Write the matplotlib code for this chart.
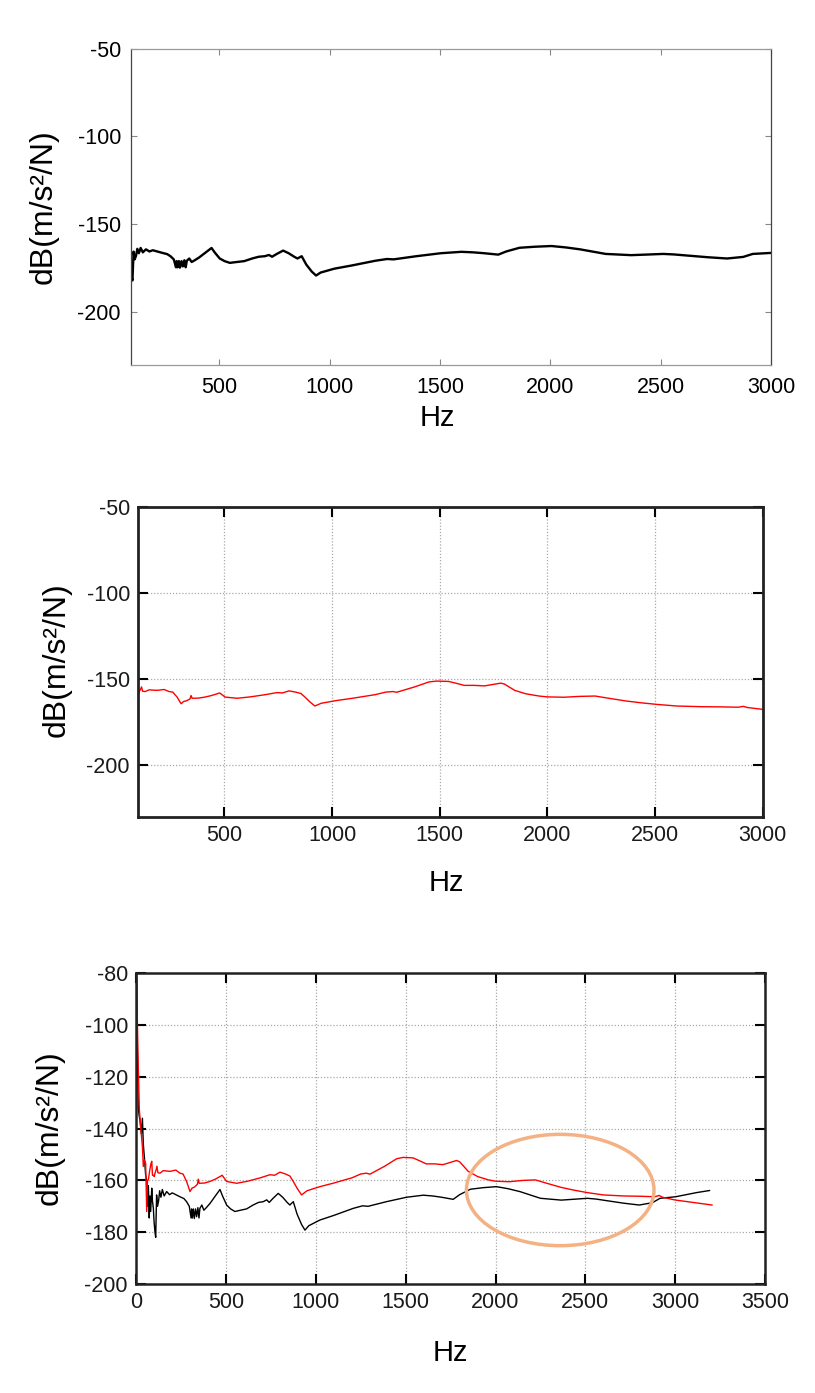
import matplotlib.pyplot as plt
from matplotlib.patches import Ellipse

plt.rcParams['font.family'] = ['Liberation Sans', 'DejaVu Sans']
plt.rcParams['axes.unicode_minus'] = False

# measured response, black (first setup) and red (second setup)
black_hz = [2, 6, 11, 16, 21, 28, 34, 39, 46, 52, 58, 63, 67, 72, 76, 80, 86, 90, 95, 99,
            104, 108, 111, 113, 118, 124, 130, 137, 145, 155, 169, 185, 200, 220, 243, 265,
            280, 295, 305, 308, 312, 318, 323, 330, 336, 343, 349, 354, 365, 376, 390, 410,
            440, 466, 480, 503, 525, 549, 580, 614, 650, 680, 707, 726, 740, 760, 790, 815,
            840, 855, 874, 895, 920, 939, 960, 1022, 1100, 1207, 1260, 1290, 1393, 1504,
            1597, 1650, 1700, 1764, 1800, 1860, 1930, 2005, 2070, 2135, 2250, 2366, 2450,
            2511, 2560, 2598, 2714, 2800, 2873, 2916, 3003, 3119, 3191]
black_db = [-82, -110, -132, -135, -137, -142, -136, -146, -152, -158, -160, -170, -162,
            -174.5, -166, -172, -163, -168, -170.8, -176, -180, -182, -172, -165.6, -170,
            -168, -164, -166.5, -163.5, -166, -164.3, -165.5, -164.8, -165.5, -166.3, -167,
            -168.2, -170, -174.5, -171, -174.5, -171, -174.7, -171, -174, -170.5, -174.5,
            -170.8, -169.5, -171.5, -170.5, -168.9, -166, -163.5, -166, -169.5, -171, -172,
            -171.5, -171, -169.5, -168.5, -168.2, -167.5, -168.5, -167, -165, -166.5,
            -168.5, -169.5, -168.2, -173, -177, -179.2, -177.5, -175.3, -173.5, -170.8,
            -169.8, -170, -168.2, -166.5, -165.7, -166, -166.5, -167.3, -165.5, -163.4,
            -162.8, -162.4, -163.2, -164.3, -166.9, -167.6, -167.2, -166.9, -167.2, -167.6,
            -168.8, -169.5, -168.6, -166.9, -166.3, -164.7, -163.9]

red_hz = [2, 5, 9, 13, 17, 23, 29, 34, 39, 45, 52, 58, 62, 67, 75, 81, 86, 90, 95, 100,
          105, 110, 115, 120, 132, 150, 187, 220, 243, 260, 280, 299, 310, 325, 340, 345,
          350, 380, 410, 440, 466, 478, 503, 559, 620, 690, 744, 770, 800, 830, 855, 874,
          895, 920, 950, 1022, 1100, 1200, 1250, 1282, 1300, 1383, 1450, 1486, 1541, 1580,
          1614, 1660, 1708, 1750, 1783, 1800, 1848, 1900, 1961, 2000, 2077, 2150, 2222,
          2280, 2366, 2440, 2511, 2600, 2714, 2800, 2887, 2910, 2930, 3003, 3100, 3205]
red_db = [-80, -95, -109.6, -122, -132.8, -138, -143, -147, -154.6, -152, -153.4, -172,
          -160, -159.8, -156, -153.7, -152.6, -158, -158, -158.5, -157, -156, -154.5, -157,
          -157.2, -156.2, -156.5, -156, -157.2, -157.5, -160.4, -164.3, -163, -162.5,
          -161.5, -159.5, -161.1, -161, -160.4, -159.5, -158.5, -158, -160.4, -161.1,
          -160.3, -159, -157.8, -158, -156.8, -157.5, -158.3, -160.4, -163, -165.6, -164,
          -162.4, -161, -159, -157.5, -157.2, -157.6, -154.5, -151.6, -151.1, -151.3,
          -152.5, -153.6, -153.6, -153.9, -153, -152.3, -152.8, -156.5, -158.5, -159.8,
          -160.3, -160.5, -160, -159.8, -161, -162.7, -163.8, -164.7, -165.6, -166, -166.1,
          -166.3, -165.8, -166.5, -167.6, -168.5, -169.5]

ylab = 'dB(m/s²/N)'
W, H = 815, 1393

fig = plt.figure(figsize=(W / 100, H / 100), dpi=100)


def axes_px(l, t, r, b):
    return fig.add_axes([l / W, 1 - b / H, (r - l) / W, (b - t) / H])


def text_px(x, y, s, size, rot=0):
    fig.text(x / W, 1 - y / H, s, ha='center', va='center', rotation=rot,
             fontsize=size, color='black')


# --- top: black only, no grid, light frame
ax1 = axes_px(130.7, 48.7, 771.3, 364.7)
ax1.plot(black_hz, black_db, color='black', lw=1.7)
ax1.set_xlim(100, 3000)
ax1.set_ylim(-230, -50)
ax1.set_xticks([500, 1000, 1500, 2000, 2500, 3000])
ax1.set_yticks([-50, -100, -150, -200])
ax1.tick_params(direction='in', top=True, right=True, length=4, width=0.8,
                color='#888888', labelsize=15.5, pad=7)
ax1.tick_params(axis='x', pad=9)
for side in ['left', 'right']:
    ax1.spines[side].set_linestyle((0, (1.5, 1)))
    ax1.spines[side].set_color('#444444')
    ax1.spines[side].set_linewidth(0.9)
for side in ['top', 'bottom']:
    ax1.spines[side].set_color('#999999')
    ax1.spines[side].set_linewidth(0.9)
text_px(44, 207, ylab, 23, 90)
text_px(437, 418, 'Hz', 21)

# --- middle: red only, dotted grid
ax2 = axes_px(138.3, 507.3, 762.7, 816.7)
ax2.plot(red_hz, red_db, color='red', lw=1.0)
ax2.set_xlim(100, 3000)
ax2.set_ylim(-230, -50)
ax2.set_xticks([500, 1000, 1500, 2000, 2500, 3000])
ax2.set_yticks([-50, -100, -150, -200])
ax2.grid(True, color='#aaaaaa', ls=(0, (1, 1.5)), lw=0.9)
ax2.tick_params(direction='in', top=True, right=True, length=7, width=1.5,
                labelsize=15.5, pad=6, labelcolor='#1a1a1a')
for sp in ax2.spines.values():
    sp.set_linewidth(2)
    sp.set_color('#222222')
text_px(57, 660, ylab, 23, 90)
text_px(446, 883, 'Hz', 21)

# --- bottom: both curves, highlight ellipse
ax3 = axes_px(136.3, 973.3, 765, 1284)
ax3.plot(black_hz, black_db, color='black', lw=1.0)
ax3.plot(red_hz, red_db, color='red', lw=1.0)
ax3.set_xlim(0, 3500)
ax3.set_ylim(-200, -80)
ax3.set_xticks(range(0, 3501, 500))
ax3.set_yticks(range(-200, -79, 20))
ax3.grid(True, color='#aaaaaa', ls=(0, (1, 1.5)), lw=0.9)
ax3.tick_params(direction='in', top=True, right=True, length=7, width=1.5,
                labelsize=15.5, pad=6, labelcolor='#1a1a1a')
for sp in ax3.spines.values():
    sp.set_linewidth(1.8)
    sp.set_color('#222222')
ax3.add_patch(Ellipse((2360, -163.7), 1044, 43, fill=False,
                      edgecolor='#F4B183', lw=2.5, zorder=5))
text_px(50, 1128, ylab, 23, 90)
text_px(450, 1353, 'Hz', 21)

fig.savefig('out.png', dpi=100)
